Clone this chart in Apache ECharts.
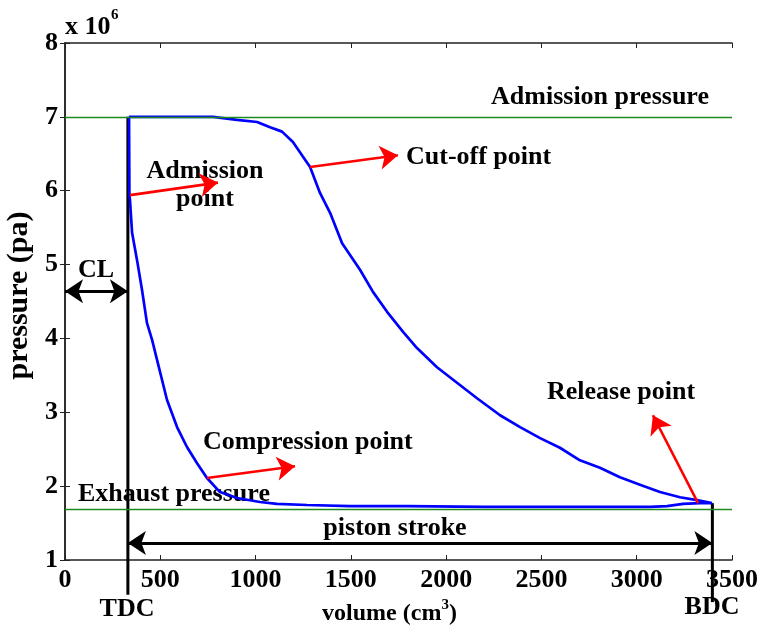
<!DOCTYPE html>
<html>
<head>
<meta charset="utf-8">
<script src="https://cdn.jsdelivr.net/npm/echarts@6/dist/echarts.min.js"></script>
<style>
  html, body { margin: 0; padding: 0; background: #fff; }
  #chart { width: 760px; height: 629px; }
</style>
</head>
<body>
<div id="chart"></div>
<script>
// Indicator (p-V) diagram of one engine cycle; pressure in units of 10^6 Pa.
var volume = [336, 777, 903, 1008, 1076, 1139, 1196, 1249, 1286, 1338, 1391, 1454, 1548, 1616,
  1690, 1774, 1847, 1952, 2057, 2162, 2283, 2388, 2493, 2597, 2702, 2807, 2912, 3017, 3122,
  3227, 3316, 3395, 3332, 3243, 3159, 3070, 2700, 2200, 2190, 1800, 1496, 1270, 1112, 1023,
  903, 813, 745, 693, 640, 588, 535, 509, 483, 457, 430, 404, 378, 352, 341, 338, 336];
var pressure = [7.0, 7.0, 6.96, 6.93, 6.86, 6.80, 6.66, 6.46, 6.32, 5.97, 5.70, 5.29, 4.93, 4.63,
  4.36, 4.09, 3.87, 3.61, 3.40, 3.19, 2.96, 2.80, 2.65, 2.52, 2.35, 2.25, 2.12, 2.02, 1.92,
  1.85, 1.81, 1.77, 1.77, 1.76, 1.73, 1.72, 1.72, 1.72, 1.73, 1.73, 1.73, 1.745, 1.76, 1.785,
  1.84, 1.92, 2.11, 2.31, 2.53, 2.80, 3.17, 3.44, 3.71, 3.98, 4.21, 4.66, 5.06, 5.43, 5.87, 5.94, 7.0];

var xTicks = [0, 500, 1000, 1500, 2000, 2500, 3000, 3500];
var yTicks = [1, 2, 3, 4, 5, 6, 7, 8];

var admissionPressure = 7.0;
var exhaustPressure = 1.69;
var tdcVolume = 330;
var bdcVolume = 3397;
var bdcTopPressure = 1.77;
var strokeLevel = 1.23;
var clearanceLevel = 4.64;
var belowAxisTdc = 0.53;
var belowAxisBdc = 0.43;

// annotation arrows: [fromVolume, fromPressure, toVolume, toPressure]
var admissionArrow = [341, 5.94, 803, 6.11];
var cutoffArrow = [1286, 6.32, 1747, 6.48];
var compressionArrow = [745, 2.11, 1207, 2.27];
var releaseArrow = [3322, 1.77, 3085, 2.96];

var cycleData = volume.map(function (v, i) { return [v, pressure[i]]; });

var FONT = '"Liberation Serif", "Times New Roman", serif';
var AXIS_COLOR = '#222';

function arrowPair(a) {
  return [{ coord: [a[0], a[1]], symbol: 'none' }, { coord: [a[2], a[3]], symbol: 'arrow' }];
}

var chart = echarts.init(document.getElementById('chart'));

var axisCommon = {
  type: 'value',
  splitLine: { show: false },
  axisLine: { show: true, lineStyle: { color: AXIS_COLOR, width: 1.5 } },
  axisTick: { show: true, inside: true, length: 5, lineStyle: { color: AXIS_COLOR, width: 1 } }
};

var labelStyle = {
  color: '#000', fontFamily: FONT, fontWeight: 'bold', fontSize: 26,
  formatter: function (v) { return String(v); }
};

chart.setOption({
  animation: false,
  backgroundColor: '#fff',
  grid: { left: 65, right: 28, top: 43, bottom: 69, containLabel: false, outerBoundsMode: 'none' },
  xAxis: [
    Object.assign({}, axisCommon, {
      min: xTicks[0], max: xTicks[xTicks.length - 1], interval: xTicks[1] - xTicks[0],
      position: 'bottom',
      axisLabel: Object.assign({ margin: 7 }, labelStyle),
      name: '{a|volume (cm}{s|3}{a|)}',
      nameLocation: 'middle', nameGap: 37,
      nameTextStyle: {
        padding: [0, 18, 0, 0],
        rich: {
          a: { fontFamily: FONT, fontWeight: 'bold', fontSize: 24, color: '#000' },
          s: { fontFamily: FONT, fontWeight: 'bold', fontSize: 15, color: '#000', verticalAlign: 'top', padding: [0, 0, 16, 0] }
        }
      }
    }),
    Object.assign({}, axisCommon, {
      min: xTicks[0], max: xTicks[xTicks.length - 1], interval: xTicks[1] - xTicks[0],
      position: 'top', axisLabel: { show: false }
    })
  ],
  yAxis: [
    Object.assign({}, axisCommon, {
      min: yTicks[0], max: yTicks[yTicks.length - 1], interval: yTicks[1] - yTicks[0],
      position: 'left',
      axisLabel: Object.assign({ margin: 7 }, labelStyle),
      name: 'pressure (pa)',
      nameLocation: 'middle', nameGap: 29,
      nameTextStyle: { fontFamily: FONT, fontWeight: 'bold', fontSize: 30, color: '#000', padding: [0, 0, 0, 12] }
    }),
    Object.assign({}, axisCommon, {
      min: yTicks[0], max: yTicks[yTicks.length - 1], interval: yTicks[1] - yTicks[0],
      position: 'right', axisLabel: { show: false }
    })
  ],
  series: [
    {
      name: 'levels', type: 'line', data: [], silent: true,
      markLine: {
        silent: true, symbol: 'none', animation: false,
        label: { show: false },
        lineStyle: { color: '#1f8a1f', width: 1.3, type: 'solid' },
        data: [{ yAxis: admissionPressure }, { yAxis: exhaustPressure }]
      }
    },
    {
      name: 'cycle', type: 'line', data: cycleData, showSymbol: false, z: 4,
      lineStyle: { color: '#0000ff', width: 2.7 }
    },
    {
      name: 'TDC', type: 'line', clip: false, showSymbol: false, z: 3,
      data: [[tdcVolume, admissionPressure], [tdcVolume, belowAxisTdc]],
      lineStyle: { color: '#000', width: 3 }
    },
    {
      name: 'BDC', type: 'line', clip: false, showSymbol: false, z: 3,
      data: [[bdcVolume, bdcTopPressure], [bdcVolume, belowAxisBdc]],
      lineStyle: { color: '#000', width: 3 }
    },
    {
      name: 'pointers', type: 'line', data: [], z: 5,
      markLine: {
        silent: true, animation: false, symbolSize: 18,
        label: { show: false },
        lineStyle: { color: '#ff0000', width: 2.6, type: 'solid' },
        data: [arrowPair(admissionArrow), arrowPair(cutoffArrow), arrowPair(compressionArrow), arrowPair(releaseArrow)]
      }
    },
    {
      name: 'spans', type: 'line', data: [], z: 5,
      markLine: {
        silent: true, animation: false, symbolSize: 18, symbol: ['arrow', 'arrow'],
        label: { show: false },
        lineStyle: { color: '#000', width: 3, type: 'solid' },
        data: [
          [{ coord: [tdcVolume, strokeLevel] }, { coord: [bdcVolume, strokeLevel] }],
          [{ coord: [0, clearanceLevel] }, { coord: [tdcVolume, clearanceLevel] }]
        ]
      }
    }
  ],
  graphic: [
    { type: 'text', left: 65, top: 14, style: { text: 'x 10', font: 'bold 26px ' + FONT, fill: '#000' } },
    { type: 'text', left: 111, top: 8, style: { text: '6', font: 'bold 15px ' + FONT, fill: '#000' } },
    { type: 'text', x: 600, y: 97, style: { text: 'Admission pressure', font: 'bold 26px ' + FONT, fill: '#000', textAlign: 'center', textVerticalAlign: 'middle' } },
    { type: 'text', x: 205, y: 171, style: { text: 'Admission', font: 'bold 26px ' + FONT, fill: '#000', textAlign: 'center', textVerticalAlign: 'middle' } },
    { type: 'text', x: 205, y: 199, style: { text: 'point', font: 'bold 26px ' + FONT, fill: '#000', textAlign: 'center', textVerticalAlign: 'middle' } },
    { type: 'text', x: 406, y: 157, style: { text: 'Cut-off point', font: 'bold 26px ' + FONT, fill: '#000', textAlign: 'left', textVerticalAlign: 'middle' } },
    { type: 'text', x: 96, y: 270, style: { text: 'CL', font: 'bold 26px ' + FONT, fill: '#000', textAlign: 'center', textVerticalAlign: 'middle' } },
    { type: 'text', x: 547, y: 392, style: { text: 'Release point', font: 'bold 26px ' + FONT, fill: '#000', textAlign: 'left', textVerticalAlign: 'middle' } },
    { type: 'text', x: 203, y: 442, style: { text: 'Compression point', font: 'bold 26px ' + FONT, fill: '#000', textAlign: 'left', textVerticalAlign: 'middle' } },
    { type: 'text', x: 78, y: 494, style: { text: 'Exhaust pressure', font: 'bold 26px ' + FONT, fill: '#000', textAlign: 'left', textVerticalAlign: 'middle' } },
    { type: 'text', x: 395, y: 528, style: { text: 'piston stroke', font: 'bold 26px ' + FONT, fill: '#000', textAlign: 'center', textVerticalAlign: 'middle' } },
    { type: 'text', x: 127, y: 609, style: { text: 'TDC', font: 'bold 26px ' + FONT, fill: '#000', textAlign: 'center', textVerticalAlign: 'middle' } },
    { type: 'text', x: 712, y: 607, style: { text: 'BDC', font: 'bold 26px ' + FONT, fill: '#000', textAlign: 'center', textVerticalAlign: 'middle' } }
  ]
});
</script>
</body>
</html>
